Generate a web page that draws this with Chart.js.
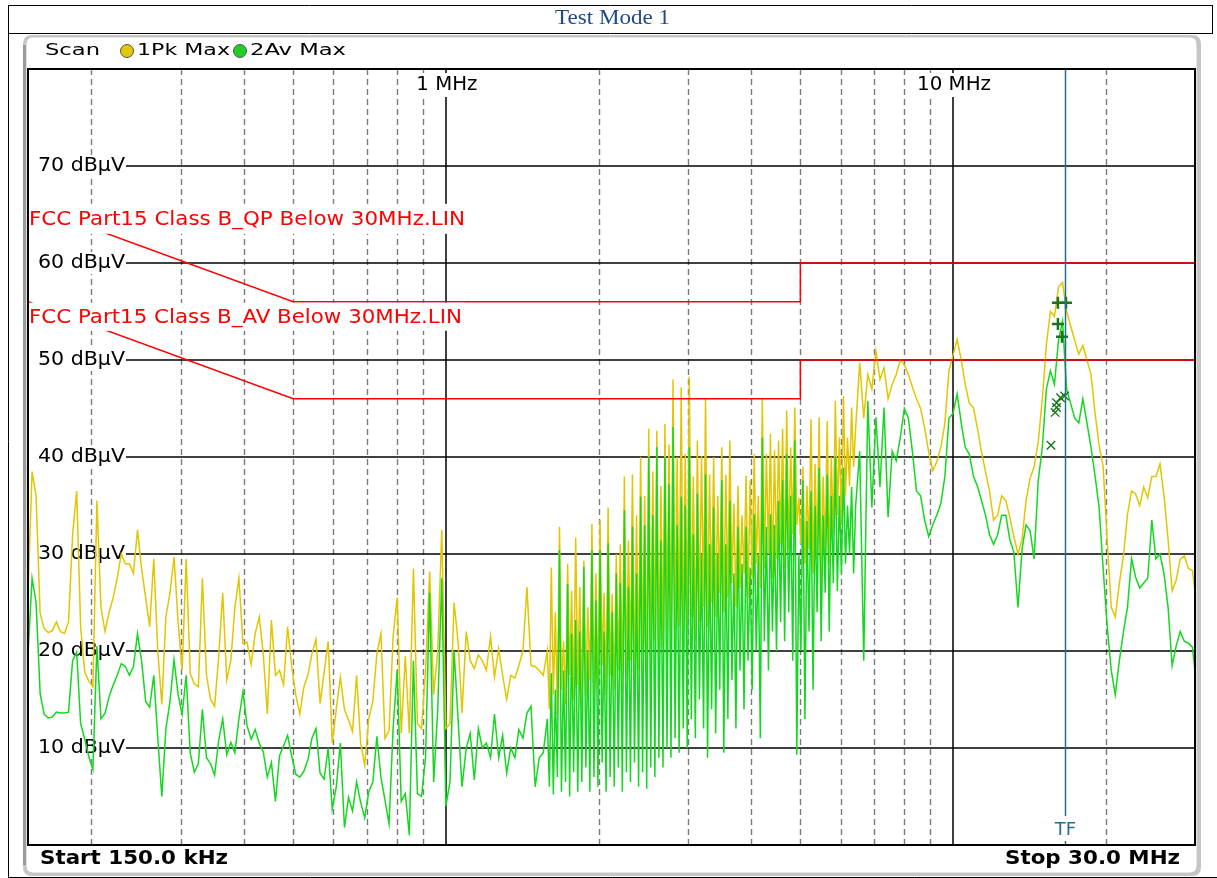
<!DOCTYPE html>
<html lang="en">
<head>
  <meta charset="UTF-8" />
  <title>Test Mode 1</title>
  <script src="https://cdn.jsdelivr.net/npm/chart.js"></script>
  <style>
    html, body { margin: 0; padding: 0; background: #fff; }
    canvas { display: block; }
  </style>
</head>
<body>
  <canvas id="scanChart" width="1217" height="878"></canvas>
  <script>
    // sweep frequencies (MHz)
    const freqMHz = [
      0.150, 0.1528, 0.1556, 0.1585, 0.1614, 0.1644, 0.1675, 0.1706, 0.1738, 0.1770,
      0.1803, 0.1837, 0.1871, 0.1905, 0.1941, 0.1977, 0.2014, 0.2051, 0.2089, 0.2128,
      0.2168, 0.2208, 0.2249, 0.2291, 0.2333, 0.2377, 0.2421, 0.2466, 0.2512, 0.2559,
      0.2606, 0.2655, 0.2704, 0.2754, 0.2805, 0.2858, 0.2911, 0.2965, 0.3020, 0.3076,
      0.3133, 0.3192, 0.3251, 0.3311, 0.3373, 0.3436, 0.3500, 0.3565, 0.3631, 0.3698,
      0.3767, 0.3837, 0.3908, 0.3981, 0.4055, 0.4131, 0.4207, 0.4286, 0.4365, 0.4446,
      0.4529, 0.4613, 0.4699, 0.4786, 0.4875, 0.4966, 0.5058, 0.5152, 0.5248, 0.5346,
      0.5445, 0.5546, 0.5649, 0.5754, 0.5861, 0.5970, 0.6081, 0.6194, 0.6310, 0.6427,
      0.6546, 0.6668, 0.6792, 0.6918, 0.7047, 0.7178, 0.7311, 0.7447, 0.7586, 0.7727,
      0.7870, 0.8017, 0.8166, 0.8318, 0.8472, 0.8630, 0.8790, 0.8954, 0.9120, 0.9290,
      0.9462, 0.9638, 0.9817, 1.000, 1.019, 1.038, 1.057, 1.076, 1.097, 1.117,
      1.138, 1.159, 1.180, 1.202, 1.225, 1.247, 1.271, 1.294, 1.318, 1.343,
      1.368, 1.393, 1.419, 1.445, 1.472, 1.500, 1.528, 1.556,
      1.585, 1.600, 1.614, 1.629, 1.644, 1.659, 1.675, 1.690, 1.706, 1.722,
      1.738, 1.754, 1.770, 1.786, 1.803, 1.820, 1.837, 1.854, 1.871, 1.888,
      1.905, 1.923, 1.941, 1.959, 1.977, 1.995, 2.014, 2.033, 2.051, 2.070,
      2.089, 2.108, 2.128, 2.148, 2.168, 2.188, 2.208, 2.228, 2.249, 2.270,
      2.291, 2.312, 2.333, 2.355, 2.377, 2.399, 2.421, 2.443, 2.466, 2.489,
      2.512, 2.535, 2.559, 2.583, 2.606, 2.630, 2.655, 2.680, 2.704, 2.729,
      2.754, 2.779, 2.805, 2.831, 2.858, 2.884, 2.911, 2.938, 2.965, 2.992,
      3.020, 3.048, 3.076, 3.104, 3.133, 3.162, 3.192, 3.222, 3.251, 3.281,
      3.311, 3.342, 3.373, 3.404, 3.436, 3.468, 3.500, 3.532, 3.565, 3.598,
      3.631, 3.665, 3.698, 3.732, 3.767, 3.802, 3.837, 3.872, 3.908, 3.944,
      3.981, 4.018, 4.055, 4.093, 4.131, 4.169, 4.207, 4.246, 4.286, 4.326,
      4.365, 4.405, 4.446, 4.487, 4.529, 4.571, 4.613, 4.656, 4.699, 4.742,
      4.786, 4.830, 4.875, 4.920, 4.966, 5.012, 5.058, 5.105, 5.152, 5.200,
      5.248, 5.297, 5.346, 5.395, 5.445, 5.495, 5.546, 5.597, 5.649, 5.701,
      5.754, 5.807, 5.861, 5.915, 5.970, 6.025, 6.081, 6.137, 6.194, 6.251,
      6.310, 6.368, 6.427,
      6.546, 6.668, 6.792, 6.918, 7.047,
      7.178, 7.311, 7.447, 7.586, 7.727, 7.870, 8.017, 8.166, 8.318, 8.472,
      8.630, 8.790, 8.954, 9.120, 9.290, 9.462, 9.638, 9.817, 10.00, 10.19,
      10.38, 10.57, 10.77, 10.97, 11.17, 11.38, 11.59, 11.80, 12.02, 12.25,
      12.47, 12.71, 12.94, 13.18, 13.43, 13.68, 13.93, 14.19, 14.45, 14.72,
      15.00, 15.28, 15.56, 15.85, 16.14, 16.44, 16.75, 17.06, 17.38, 17.70,
      18.03, 18.37, 18.71, 19.06, 19.41, 19.77, 20.14, 20.51, 20.89, 21.28,
      21.68, 22.08, 22.49, 22.91, 23.34, 23.77, 24.21, 24.66, 25.12, 25.59,
      26.06, 26.55, 27.04, 27.54, 28.05, 28.58, 29.11, 29.65, 30.00
    ];

    // 1Pk Max trace (dBµV)
    const pkMax = [
      25.9, 38.5, 36.0, 23.9, 22.3, 21.9, 22.1, 23.0, 22.0, 21.8,
      23.0, 32.0, 36.5, 22.5, 17.8, 16.9, 16.3, 35.5, 24.5, 22.0,
      24.0, 25.5, 27.5, 30.0, 29.0, 29.0, 28.0, 32.5, 28.5, 25.5,
      22.5, 29.5, 20.0, 14.5, 23.5, 26.0, 29.7, 23.0, 18.0, 29.5,
      17.7, 16.6, 16.3, 27.5, 17.5, 15.0, 14.3, 19.4, 26.0, 17.0,
      19.0, 24.5, 27.5, 20.8, 20.9, 18.6, 21.8, 23.5, 19.7, 13.5,
      23.2, 17.5, 18.0, 16.5, 22.5, 18.4, 15.5, 13.5, 16.3, 17.5,
      19.7, 21.2, 14.6, 17.8, 21.0, 10.5, 14.0, 17.3, 14.0, 12.9,
      11.7, 17.5, 10.5, 8.2, 13.0, 14.8, 19.7, 21.8, 11.0, 11.8,
      21.5, 25.5, 11.5, 19.5, 11.5, 28.5, 12.5, 12.0, 18.0, 28.2,
      15.5, 20.0, 32.5, 12.0, 12.5, 25.0, 21.0, 13.6, 22.0, 19.0,
      18.2, 19.6, 19.0, 18.0, 21.5, 17.3, 20.2, 17.5, 15.0, 17.5,
      17.2, 18.5, 20.0, 26.6, 18.5, 18.4, 18.0, 17.5,
      20.0, 14.0, 28.6, 15.5, 24.0, 13.5, 32.8, 16.0, 21.0, 14.5,
      29.0, 17.5, 26.2, 15.0, 31.7, 16.5, 26.6, 14.0, 29.3, 15.5,
      24.5, 17.0, 33.1, 14.5, 28.0, 16.0, 33.5, 18.5, 26.0, 15.5,
      34.8, 17.5, 25.9, 16.0, 30.0, 18.0, 31.0, 15.5, 38.0, 17.5,
      31.4, 19.0, 38.2, 16.5, 34.0, 18.0, 40.0, 20.0, 36.0, 17.5,
      42.9, 19.5, 38.5, 21.0, 42.7, 18.5, 37.0, 20.5, 43.4, 22.0,
      41.3, 19.5, 48.0, 21.0, 40.0, 22.5, 47.2, 20.0, 40.3, 22.0,
      48.3, 23.5, 38.0, 21.0, 41.7, 23.0, 40.1, 24.5, 46.1, 22.5,
      38.2, 25.0, 40.0, 23.5, 36.0, 26.0, 41.0, 24.0, 38.2, 25.5,
      41.7, 27.0, 35.2, 24.5, 37.0, 26.5, 34.0, 28.0, 38.1, 25.5,
      37.6, 27.5, 40.3, 29.0, 36.0, 26.5, 46.0, 28.5, 40.3, 30.0,
      42.4, 27.5, 40.7, 29.5, 41.7, 31.0, 42.9, 28.5, 44.8, 30.5,
      41.0, 32.0, 45.1, 33.0, 35.8, 31.0, 39.0, 29.0, 37.0, 30.5,
      43.9, 28.0, 39.3, 29.5, 44.1, 27.0, 38.0, 30.0, 43.7, 29.0,
      40.0, 32.0, 45.8, 34.0, 42.0, 33.0, 46.3, 36.0, 42.0, 37.0,
      45.1, 39.0, 43.0,
      49.7, 44.0, 48.5, 47.0, 50.9,
      48.0, 49.2, 46.0, 47.5, 48.5, 50.0, 49.5, 48.5, 47.2, 46.0,
      45.0, 43.0, 40.5, 38.6, 39.5, 41.0, 43.5, 48.9, 50.5, 52.1,
      50.0, 47.5, 45.5, 45.1, 43.0, 40.5, 38.5, 36.5, 33.5, 34.0,
      36.0, 35.5, 33.8, 31.8, 30.0, 31.5, 35.5, 37.8, 39.0, 41.5,
      46.0, 51.6, 55.0, 54.5, 57.5, 58.0, 55.0, 53.5, 52.0, 50.6,
      51.5, 50.0, 48.5, 44.5, 41.2, 39.0, 31.4, 24.5, 23.5, 27.0,
      29.8, 34.1, 36.5, 36.2, 35.0, 36.9, 35.8, 38.0, 38.0, 39.3,
      36.0, 31.5, 26.2, 27.3, 29.5, 29.8, 28.5, 28.3, 26.2
    ];

    // 2Av Max trace (dBµV)
    const avMax = [
      19.7, 27.5, 25.0, 15.6, 13.5, 13.1, 13.2, 13.7, 13.6, 13.6,
      13.7, 19.0, 19.9, 12.5, 10.9, 9.1, 7.8, 20.5, 13.0, 13.6,
      15.3, 16.5, 17.5, 18.7, 18.4, 17.5, 18.4, 21.8, 19.0, 14.8,
      14.2, 17.5, 11.0, 5.0, 12.0, 14.8, 19.1, 15.5, 13.5, 17.5,
      9.5, 7.5, 8.4, 14.0, 9.0, 8.4, 7.2, 10.8, 13.0, 9.3,
      10.6, 9.5, 13.0, 15.8, 12.3, 10.9, 11.9, 10.5, 9.6, 7.0,
      8.5, 4.5, 9.2, 10.2, 11.3, 9.2, 7.3, 7.0, 7.6, 8.8,
      11.0, 12.0, 7.4, 6.8, 10.0, 3.7, 6.0, 10.5, 1.8, 4.9,
      3.5, 6.5, 4.4, 2.8, 5.5, 6.5, 11.2, 7.0, 4.6, 2.2,
      12.0, 18.0, 4.5, 5.3, 1.0, 19.0, 5.3, 5.0, 9.0, 26.0,
      6.5, 14.0, 27.5, 4.0, 6.5, 20.0, 13.0, 6.0, 10.0, 11.5,
      6.7, 12.0, 10.0, 10.5, 9.0, 13.5, 9.0, 11.3, 7.4, 10.0,
      9.0, 11.9, 11.0, 13.6, 14.3, 6.0, 9.0, 9.5,
      13.0, 6.0, 17.7, 5.2, 16.0, 7.0, 30.4, 5.5, 18.0, 6.5,
      26.9, 5.0, 21.8, 7.5, 23.2, 5.5, 22.0, 6.5, 28.7, 8.0,
      20.0, 5.5, 30.4, 7.0, 25.2, 6.0, 30.4, 8.5, 22.0, 5.5,
      31.1, 7.0, 24.0, 6.0, 28.0, 8.0, 27.0, 5.5, 34.5, 7.5,
      26.6, 6.5, 32.8, 8.5, 28.0, 6.0, 35.9, 7.5, 33.0, 5.8,
      40.0, 8.0, 34.0, 7.0, 41.0, 9.0, 31.4, 8.0, 40.0, 10.0,
      37.2, 9.0, 43.1, 11.0, 33.0, 9.5, 35.9, 12.0, 35.0, 10.0,
      41.0, 13.0, 32.0, 11.0, 36.2, 15.0, 30.0, 12.0, 38.2, 9.0,
      31.0, 14.0, 34.8, 11.5, 30.0, 16.0, 37.6, 9.5, 31.0, 13.0,
      35.5, 17.0, 28.0, 12.0, 32.8, 18.0, 29.0, 14.0, 32.8, 19.0,
      28.6, 16.0, 34.1, 20.0, 30.0, 11.0, 42.0, 21.0, 32.8, 18.0,
      34.1, 22.0, 33.0, 20.0, 35.5, 23.0, 37.6, 21.0, 40.3, 24.0,
      36.0, 19.0, 41.7, 9.3, 30.0, 20.0, 37.6, 13.0, 33.4, 22.0,
      36.5, 16.0, 35.0, 24.0, 38.9, 21.0, 34.0, 26.0, 38.2, 22.0,
      36.0, 27.0, 40.0, 26.2, 36.0, 28.0, 38.9, 29.0, 35.0, 30.0,
      36.9, 28.0, 35.0,
      40.6, 19.0, 45.8, 34.8, 44.1,
      36.9, 45.1, 33.8, 40.6, 39.6, 42.0, 45.0, 44.0, 40.5, 36.5,
      36.0, 33.5, 31.8, 33.0, 34.0, 35.2, 38.0, 44.0, 44.5, 46.5,
      43.5, 41.0, 40.3, 38.0, 37.0, 35.5, 34.0, 32.0, 31.0, 32.0,
      34.0, 34.0, 31.5, 30.2, 24.5, 30.5, 33.0, 32.4, 29.5, 37.5,
      41.0, 47.0, 48.9, 47.5, 52.0, 54.0, 47.0, 45.5, 44.0, 43.5,
      46.0, 43.5, 41.0, 38.0, 34.8, 28.5, 22.5, 18.0, 15.5, 19.0,
      22.0, 24.5, 29.5, 27.6, 26.5, 27.0, 27.5, 33.5, 29.5, 30.0,
      28.0, 24.5, 18.5, 20.5, 22.0, 21.0, 20.8, 20.4, 18.0
    ];

    // limit lines
    const limitFreq = [0.15, 0.5, 5, 5, 30];
    const qpLimit = [66, 56, 56, 60, 60];
    const avLimit = [56, 46, 46, 50, 50];
    const qpLimitName = 'FCC Part15 Class B_QP Below 30MHz.LIN';
    const avLimitName = 'FCC Part15 Class B_AV Below 30MHz.LIN';

    // final measurement markers
    const qpMarkFreq = [16.1, 16.7, 16.1, 16.4];
    const qpMarkLevel = [55.9, 55.9, 53.7, 52.4];
    const avMarkFreq = [15.6, 15.9, 16.0, 16.3, 16.6, 16.0];
    const avMarkLevel = [41.2, 44.6, 45.6, 46.1, 46.3, 45.1];
    const tfFreq = 16.6;

    // axis ticks
    const levelTicks = [10, 20, 30, 40, 50, 60, 70];
    const decadeFreqs = [1, 10];
    const decadeLabels = ['1 MHz', '10 MHz'];
    const minorFreqs = [0.2, 0.3, 0.4, 0.5, 0.6, 0.7, 0.8, 0.9, 2, 3, 4, 5, 6, 7, 8, 9, 20];

    if (pkMax.length !== freqMHz.length || avMax.length !== freqMHz.length) {
      console.error('length mismatch', freqMHz.length, pkMax.length, avMax.length);
    }

    const pts = (xs, ys) => xs.map((f, i) => ({ x: f, y: ys[i] }));

    // draws text squeezed/stretched to a given width, left aligned
    function fitText(ctx, text, left, midY, width, font, color) {
      ctx.save();
      ctx.font = font;
      const w = ctx.measureText(text).width;
      ctx.translate(left, midY);
      ctx.scale(width / w, 1);
      ctx.fillStyle = color;
      ctx.textBaseline = 'middle';
      ctx.textAlign = 'left';
      ctx.fillText(text, 0, 0);
      ctx.restore();
    }

    function roundRect(ctx, x, y, w, h, r) {
      ctx.beginPath();
      ctx.moveTo(x + r, y);
      ctx.lineTo(x + w - r, y);
      ctx.quadraticCurveTo(x + w, y, x + w, y + r);
      ctx.lineTo(x + w, y + h - r);
      ctx.quadraticCurveTo(x + w, y + h, x + w - r, y + h);
      ctx.lineTo(x + r, y + h);
      ctx.quadraticCurveTo(x, y + h, x, y + h - r);
      ctx.lineTo(x, y + r);
      ctx.quadraticCurveTo(x, y, x + r, y);
      ctx.closePath();
    }

    function line(ctx, x1, y1, x2, y2) {
      ctx.beginPath();
      ctx.moveTo(x1, y1);
      ctx.lineTo(x2, y2);
      ctx.stroke();
    }

    const analyzerFrame = {
      id: 'analyzerFrame',
      beforeDraw(chart) {
        const { ctx, chartArea: a, scales: { x, y } } = chart;
        ctx.save();
        ctx.fillStyle = '#fff';
        ctx.fillRect(0, 0, chart.width, chart.height);

        // report frame + title
        ctx.strokeStyle = '#000';
        ctx.lineWidth = 1;
        line(ctx, 8, 5.5, 1213, 5.5);
        line(ctx, 8.5, 5, 8.5, 878);
        line(ctx, 8, 33.5, 1213, 33.5);
        line(ctx, 1212.5, 5, 1212.5, 34);
        line(ctx, 8, 877.5, 1217, 877.5);
        fitText(ctx, 'Test Mode 1', 555, 19, 115, '20px "Liberation Serif"', '#1f4a85');

        // instrument panel
        ctx.fillStyle = '#c6c6c6';
        roundRect(ctx, 23, 35, 1178, 841, 9);
        ctx.fill();
        ctx.fillStyle = '#9a9a9a';
        ctx.fillRect(23, 45, 3, 820);
        ctx.fillStyle = '#fff';
        roundRect(ctx, 26.5, 37.5, 1170, 835, 7);
        ctx.fill();

        // header
        fitText(ctx, 'Scan', 45, 51, 55, '16px "DejaVu Sans"', '#000');
        ctx.lineWidth = 1;
        ctx.strokeStyle = '#555';
        ctx.fillStyle = '#e2c800';
        ctx.beginPath(); ctx.arc(127, 51, 6.5, 0, Math.PI * 2); ctx.fill(); ctx.stroke();
        fitText(ctx, '1Pk Max', 137, 51, 93, '16px "DejaVu Sans"', '#000');
        ctx.fillStyle = '#1fd02a';
        ctx.beginPath(); ctx.arc(240, 51, 6.5, 0, Math.PI * 2); ctx.fill(); ctx.stroke();
        fitText(ctx, '2Av Max', 250, 51, 96, '16px "DejaVu Sans"', '#000');

        // footer
        fitText(ctx, 'Start 150.0 kHz', 40, 859, 188, 'bold 20px "DejaVu Sans"', '#000');
        fitText(ctx, 'Stop 30.0 MHz', 1005, 859, 175, 'bold 20px "DejaVu Sans"', '#000');

        // minor frequency grid
        ctx.strokeStyle = '#7a7a7a';
        ctx.lineWidth = 1.4;
        ctx.setLineDash([6, 4]);
        minorFreqs.forEach(f => {
          const px = Math.round(x.getPixelForValue(f)) + 0.5;
          line(ctx, px, a.top, px, a.bottom);
        });
        ctx.setLineDash([]);

        // level grid
        ctx.strokeStyle = '#000';
        ctx.lineWidth = 1.5;
        levelTicks.forEach(l => {
          const py = Math.round(y.getPixelForValue(l));
          line(ctx, a.left, py, a.right, py);
        });
        decadeFreqs.forEach(f => {
          const px = Math.round(x.getPixelForValue(f));
          line(ctx, px, a.top, px, a.bottom);
        });

        // level labels
        levelTicks.forEach(l => {
          const py = Math.round(y.getPixelForValue(l));
          ctx.fillStyle = '#fff';
          ctx.fillRect(a.left + 1, py - 11, 126 - a.left - 1, 22);
          fitText(ctx, l + ' dBµV', 38, py, 87, '20px "DejaVu Sans"', '#000');
        });

        // decade labels
        const decadeWidths = [61, 74];
        decadeFreqs.forEach((f, i) => {
          const px = x.getPixelForValue(f);
          const w = decadeWidths[i];
          ctx.fillStyle = '#fff';
          ctx.fillRect(px - w / 2 - 3, 73, w + 6, 24);
          fitText(ctx, decadeLabels[i], px - w / 2 + 1, 85, w, '19px "DejaVu Sans"', '#000');
        });
        ctx.restore();
      },
      afterDatasetsDraw(chart) {
        const { ctx, chartArea: a, scales: { x, y } } = chart;
        ctx.save();

        // limit line names
        const qpY = y.getPixelForValue(qpLimit[0]);
        const avY = y.getPixelForValue(avLimit[0]);
        ctx.fillStyle = '#fff';
        ctx.fillRect(a.left, qpY - 1, 440, 30);
        ctx.fillRect(a.left, avY + 1, 437, 28);
        fitText(ctx, qpLimitName, a.left + 1, qpY + 15, 436, '20px "DejaVu Sans"', '#ff0000');
        fitText(ctx, avLimitName, a.left + 1, avY + 16, 433, '20px "DejaVu Sans"', '#ff0000');

        // transducer marker line
        const tx = Math.round(x.getPixelForValue(tfFreq)) + 0.5;
        ctx.strokeStyle = '#26708a';
        ctx.lineWidth = 1.5;
        line(ctx, tx, a.top, tx, 816);
        line(ctx, tx, 841, tx, a.bottom);
        ctx.font = '18px "DejaVu Sans"';
        ctx.fillStyle = '#26708a';
        ctx.textAlign = 'center';
        ctx.textBaseline = 'middle';
        ctx.fillText('TF', tx, 830);

        // plot border
        ctx.strokeStyle = '#000';
        ctx.lineWidth = 2;
        ctx.strokeRect(a.left, a.top, a.right - a.left, a.bottom - a.top);
        ctx.restore();
      }
    };

    new Chart(document.getElementById('scanChart'), {
      type: 'scatter',
      data: {
        datasets: [
          {
            label: 'QP final',
            data: pts(qpMarkFreq, qpMarkLevel),
            pointStyle: 'cross',
            pointRadius: 6,
            borderColor: '#17761a',
            borderWidth: 2.5,
            order: 0
          },
          {
            label: 'AV final',
            data: pts(avMarkFreq, avMarkLevel),
            pointStyle: 'crossRot',
            pointRadius: 6,
            borderColor: '#17761a',
            borderWidth: 1.4,
            order: 0
          },
          {
            label: 'QP limit',
            data: pts(limitFreq, qpLimit),
            showLine: true,
            pointRadius: 0,
            borderColor: '#ff0000',
            borderWidth: 1.5,
            order: 1
          },
          {
            label: 'AV limit',
            data: pts(limitFreq, avLimit),
            showLine: true,
            pointRadius: 0,
            borderColor: '#ff0000',
            borderWidth: 1.5,
            order: 1
          },
          {
            label: '2Av Max',
            data: pts(freqMHz, avMax),
            showLine: true,
            pointRadius: 0,
            borderColor: '#14d820',
            borderWidth: 1.5,
            order: 2
          },
          {
            label: '1Pk Max',
            data: pts(freqMHz, pkMax),
            showLine: true,
            pointRadius: 0,
            borderColor: '#e3c600',
            borderWidth: 1.5,
            order: 3
          }
        ]
      },
      options: {
        responsive: false,
        animation: false,
        events: [],
        layout: { padding: { left: 28, right: 22, top: 69, bottom: 33 } },
        plugins: { legend: { display: false }, tooltip: { enabled: false } },
        scales: {
          x: { type: 'logarithmic', min: 0.15, max: 30, display: false },
          y: { type: 'linear', min: 0, max: 80, display: false }
        }
      },
      plugins: [analyzerFrame]
    });
  </script>
</body>
</html>
